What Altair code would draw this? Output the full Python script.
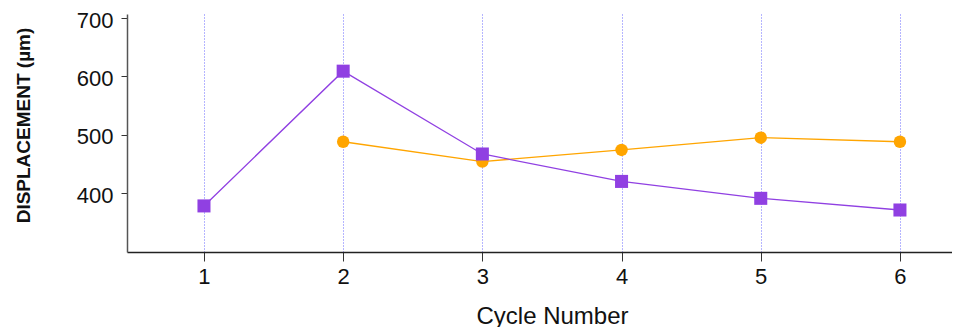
import altair as alt
import pandas as pd

cycles_a = [1, 2, 3, 4, 5, 6]
values_a = [378, 609, 467, 420, 391, 371]
cycles_b = [2, 3, 4, 5, 6]
values_b = [488, 454, 474, 495, 488]

df_a = pd.DataFrame({"cycle": cycles_a, "value": values_a})
df_b = pd.DataFrame({"cycle": cycles_b, "value": values_b})

PURPLE = "#9040E2"
ORANGE = "#FFA500"
FONT = "Liberation Sans"

xs = alt.Scale(domain=[0.447, 6.374], nice=False, zero=False)
ys = alt.Scale(domain=[299, 707], nice=False, zero=False)

xenc = alt.X("cycle:Q", scale=xs, axis=alt.Axis(
    values=[1, 2, 3, 4, 5, 6], format="d", title="Cycle Number",
    grid=True, gridColor="#6b6bff", gridDash=[1, 2], gridWidth=1,
    tickSize=9, tickColor="#333333", domainColor="#222222", domainWidth=1.5,
    labelFontSize=22, labelPadding=5, labelColor="#111111",
    titleFontSize=24, titleFontWeight="normal", titlePadding=17, titleColor="#111111",
    titleX=425,
    labelFont=FONT, titleFont=FONT))
yenc = alt.Y("value:Q", scale=ys, axis=alt.Axis(
    values=[400, 500, 600, 700], title="DISPLACEMENT (µm)", grid=False,
    tickSize=6, tickColor="#333333", domainColor="#555555", domainWidth=1.5,
    labelFontSize=22, labelPadding=8, labelOffset=2, labelColor="#111111",
    titleFontSize=19, titleFontWeight="bold", titlePadding=43, titleColor="#111111",
    titleY=111,
    labelFont=FONT, titleFont=FONT))

line_a = alt.Chart(df_a).mark_line(color=PURPLE, strokeWidth=1.3).encode(x=xenc, y=yenc)
pts_a = alt.Chart(df_a).mark_point(shape="square", filled=True, color=PURPLE, size=170, opacity=1).encode(x=xenc, y=yenc)
line_b = alt.Chart(df_b).mark_line(color=ORANGE, strokeWidth=1.3).encode(x=xenc, y=yenc)
pts_b = alt.Chart(df_b).mark_point(shape="circle", filled=True, color=ORANGE, size=155, opacity=1).encode(x=xenc, y=yenc)

chart = alt.layer(line_b, line_a, pts_b, pts_a).properties(
    width=825, height=238,
    autosize=alt.AutoSizeParams(type="none"),
    padding={"left": 119, "top": 6, "right": 0, "bottom": 75},
).configure(background="white").configure_view(stroke=None)

chart.save("out.html", embed_options={"renderer": "svg", "actions": False})
